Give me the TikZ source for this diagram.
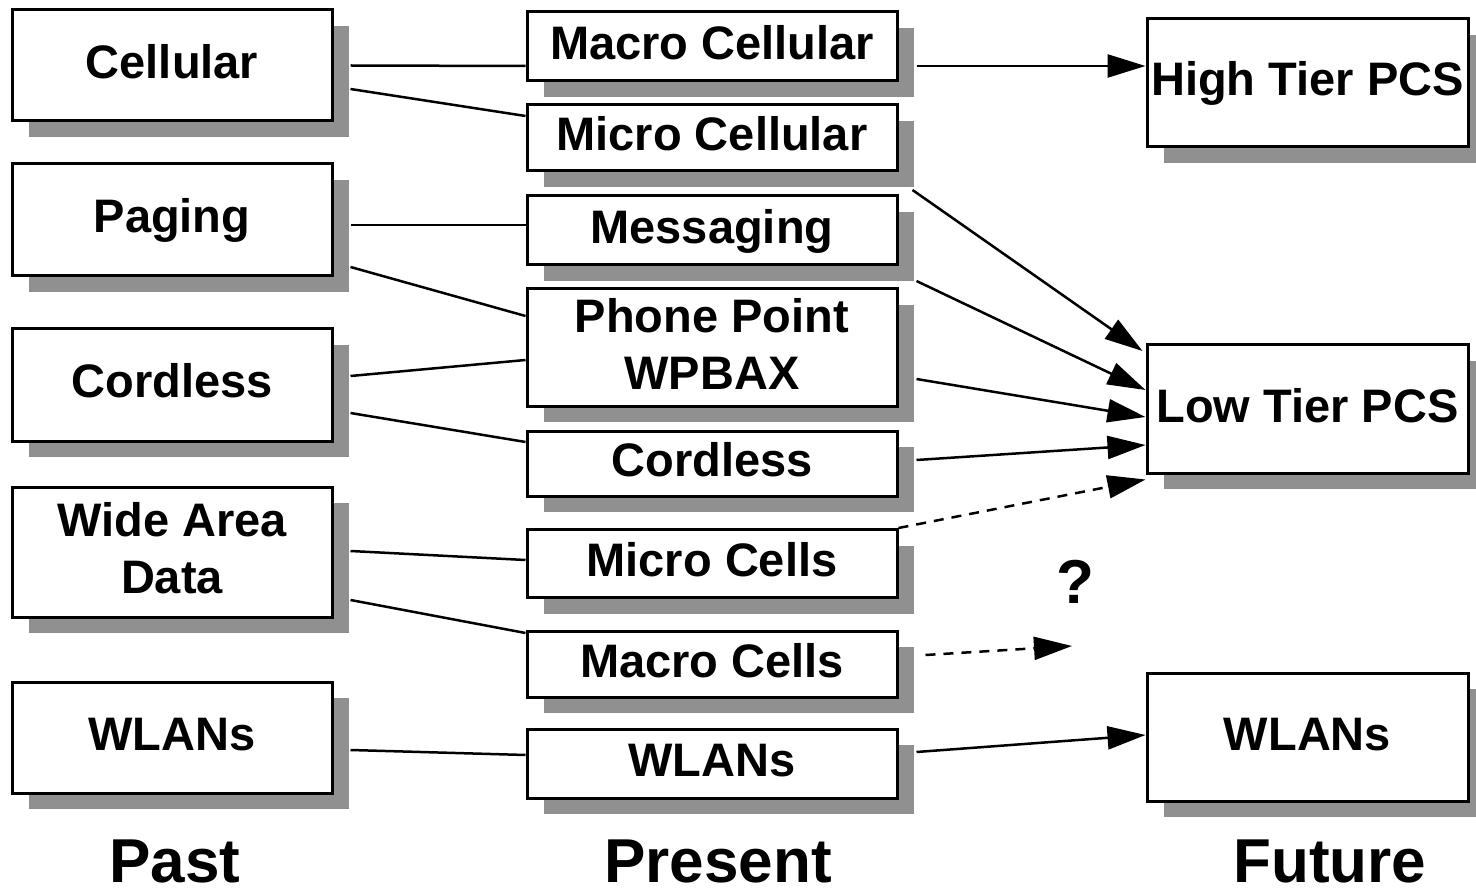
\documentclass[tikz,border=0pt]{standalone}
\usepackage{fontspec}
\setmainfont{Liberation Sans}
\usetikzlibrary{shadows,arrows.meta,calc}
\definecolor{shadowgray}{HTML}{909090}
\newcommand{\lowstrut}{\rule[-8pt]{0pt}{8pt}}
\begin{document}
\begin{tikzpicture}[x=1pt,y=-1pt,
  box/.style={draw, line width=3pt, fill=white, inner sep=0pt, align=center,
    font=\fontsize{47}{57}\selectfont\bfseries,
    drop shadow={shadow xshift=17pt, shadow yshift=-16pt, fill=shadowgray, opacity=1}},
  one/.style={text height=34pt, text depth=8pt},
  pastbox/.style={box, minimum width=320pt},
  presbox/.style={box, minimum width=370pt},
  futbox/.style={box, minimum width=321pt, minimum height=128pt},
  conn/.style={line width=2.5pt},
  arr/.style={line width=2.5pt, -{Triangle[length=38pt,width=23pt]}},
  dsh/.style={line width=2.5pt, dash pattern=on 10pt off 8pt},
  lbl/.style={font=\fontsize{62}{70}\selectfont\bfseries, anchor=base, inner sep=0pt}]
\useasboundingbox (0,0) rectangle (1476,893);
% Past
\node[pastbox, one, minimum height=111pt] (cel) at (172,65.5) {Cellular};
\node[pastbox, one, minimum height=112pt] (pag) at (172,220) {Paging};
\node[pastbox, one, minimum height=112pt] (cor) at (172,385) {Cordless};
\node[pastbox, minimum height=130pt] (wad) at (172,552) {Wide Area\\Data\lowstrut};
\node[pastbox, one, minimum height=111pt] (wlp) at (172,737.5) {WLANs};
% Present
\node[presbox, one, minimum height=69pt] (mac) at (712,46.5) {Macro Cellular};
\node[presbox, one, minimum height=66pt] (mic) at (712,138) {Micro Cellular};
\node[presbox, one, minimum height=69pt] (msg) at (712,230.5) {Messaging};
\node[presbox, minimum height=117pt] (ppt) at (712,347.5) {Phone Point\\WPBAX\lowstrut};
\node[presbox, one, minimum height=65pt] (cpr) at (712,463.5) {Cordless};
\node[presbox, one, minimum height=68pt] (mcs) at (712,563.5) {Micro Cells};
\node[presbox, one, minimum height=66pt] (mas) at (712,664) {Macro Cells};
\node[presbox, one, minimum height=69pt] (wlr) at (712,763.5) {WLANs};
% Future
\node[futbox, one] (hi) at (1307.5,83) {High Tier PCS};
\node[futbox, one] (lo) at (1307.5,409) {Low Tier PCS};
\node[futbox, one] (wlf) at (1307.5,737) {WLANs};
% Question mark
\node[font=\fontsize{62}{70}\selectfont\bfseries, inner sep=0pt] (q) at (1075.5,581.5) {?};
\coordinate (qend) at (1072,646);
% Past -> Present
\draw[conn] ($(cel.east)+(17,0)$) -- ($(mac.west)+(0,19.5)$);
\draw[conn] ($(cel.east)+(17,23.5)$) -- ($(mic.west)+(0,-22)$);
\draw[conn] ($(pag.east)+(17,5)$) -- ($(msg.west)+(0,-5.5)$);
\draw[conn] ($(pag.east)+(17,47)$) -- ($(ppt.west)+(0,-31.5)$);
\draw[conn] ($(cor.east)+(17,-9)$) -- ($(ppt.west)+(0,12.5)$);
\draw[conn] ($(cor.east)+(17,28)$) -- ($(cpr.west)+(0,-21.5)$);
\draw[conn] ($(wad.east)+(17,-1)$) -- ($(mcs.west)+(0,-3.5)$);
\draw[conn] ($(wad.east)+(17,48)$) -- ($(mas.west)+(0,-31)$);
\draw[conn] ($(wlp.east)+(17,12.5)$) -- ($(wlr.west)+(0,-8.5)$);
% Present -> Future
\draw[arr] ($(mac.east)+(18,19.5)$) -- ($(hi.west)+(0,-17)$);
\draw[arr] ($(mic.east)+(14,52)$) -- ($(lo.west)+(-3,-58)$);
\draw[arr] ($(msg.east)+(18,50.5)$) -- ($(lo.west)+(0,-19)$);
\draw[arr] ($(ppt.east)+(18,31.5)$) -- ($(lo.west)+(0,8)$);
\draw[arr] ($(cpr.east)+(18,-3.5)$) -- ($(lo.west)+(0,36)$);
\draw[dsh, -{Triangle[length=38pt,width=23pt]}] (mcs.north east) -- ($(lo.south west)+(0,5)$);
\draw[dsh, -{Triangle[length=38pt,width=23pt]}] ($(mas.east)+(27,-9)$) -- (qend);
\draw[arr] ($(wlr.east)+(18,-11.5)$) -- ($(wlf.west)+(0,-2)$);
% Column labels
\node[lbl] (past) at (175,882) {Past};
\node[lbl] (present) at (718,882) {Present};
\node[lbl] (future) at (1330,882) {Future};
\end{tikzpicture}
\end{document}
